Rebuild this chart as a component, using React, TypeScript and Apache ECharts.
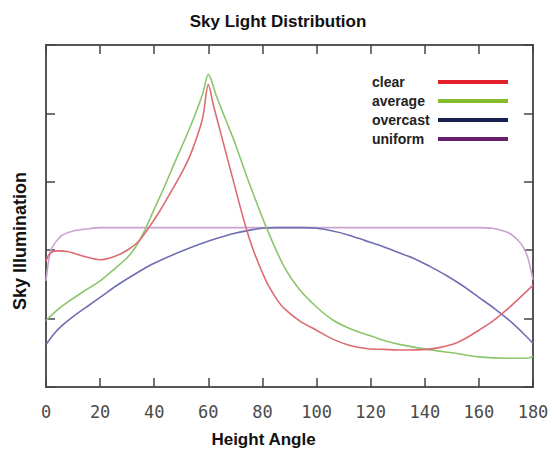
import React, { useEffect, useRef } from "react";
import * as echarts from "echarts";

const xTicks = [0, 20, 40, 60, 80, 100, 120, 140, 160, 180];

const clearX = [0, 1, 2, 4, 8, 14, 20, 26, 30, 34, 38, 42, 46, 50, 53, 56, 58, 60, 62, 64, 66, 68, 70, 72, 74, 76, 78, 80, 82, 85, 88, 94, 100, 106, 112, 119, 125, 131, 141, 150, 155, 160, 165, 170, 175, 180];
const clearY = [1.84, 1.93, 1.97, 1.99, 1.98, 1.91, 1.86, 1.92, 2.0, 2.12, 2.33, 2.57, 2.84, 3.12, 3.36, 3.68, 3.95, 4.42, 4.1, 3.8, 3.5, 3.2, 2.9, 2.6, 2.32, 2.07, 1.86, 1.67, 1.5, 1.3, 1.15, 0.96, 0.83, 0.7, 0.61, 0.56, 0.55, 0.54, 0.55, 0.62, 0.71, 0.83, 0.96, 1.12, 1.3, 1.49];

const averageX = [0, 4, 8, 14, 20, 26, 30, 33, 36, 40, 44, 48, 52, 55, 58, 60, 63, 66, 70, 74, 78, 82, 88, 94, 100, 106, 112, 119, 125, 131, 141, 150, 160, 170, 178, 180];
const averageY = [0.97, 1.12, 1.24, 1.4, 1.55, 1.75, 1.89, 2.04, 2.25, 2.6, 2.95, 3.32, 3.68, 3.97, 4.3, 4.57, 4.25, 3.95, 3.55, 3.1, 2.68, 2.28, 1.76, 1.41, 1.17, 0.98, 0.86, 0.76, 0.68, 0.62, 0.55, 0.5, 0.44, 0.42, 0.42, 0.45];

const overcastX = [0, 3, 6, 10, 15, 20, 26, 32, 38, 45, 51, 57, 63, 69, 75, 80, 85, 90, 95, 100, 106, 112, 118, 124, 130, 136, 142, 148, 154, 160, 166, 172, 176, 180];
const overcastY = [0.62, 0.78, 0.9, 1.03, 1.17, 1.31, 1.48, 1.63, 1.77, 1.9, 2.0, 2.09, 2.17, 2.24, 2.29, 2.32, 2.33, 2.33, 2.33, 2.32, 2.28, 2.22, 2.14, 2.06, 1.97, 1.88, 1.76, 1.63, 1.48, 1.31, 1.14, 0.95, 0.8, 0.64];

const uniformX = [0, 1, 2, 4, 6, 10, 15, 20, 60, 100, 140, 160, 165, 170, 173, 176, 178, 180];
const uniformY = [1.55, 1.85, 2.02, 2.14, 2.22, 2.28, 2.31, 2.33, 2.33, 2.33, 2.33, 2.33, 2.32, 2.27, 2.2, 2.07, 1.9, 1.57];

const seriesNames = ["clear", "average", "overcast", "uniform"];
const curveColors = ["#dc6b74", "#8cc66c", "#6f6fb2", "#c9a2d2"];
const legendColors = ["#e2202c", "#86bb2e", "#172050", "#6a1f6e"];

const pairs = (xs: number[], ys: number[]) => xs.map((x, i) => [x, ys[i]]);

export default function App() {
  const ref = useRef<HTMLDivElement>(null);
  useEffect(() => {
    if (!ref.current) return;
    const chart = echarts.init(ref.current, null, { renderer: "svg" });
    const datasets = [
      pairs(clearX, clearY),
      pairs(averageX, averageY),
      pairs(overcastX, overcastY),
      pairs(uniformX, uniformY),
    ];
    const frameLine = { show: true, onZero: false, lineStyle: { color: "#555", width: 2 } };
    const ticks = { show: true, inside: true, length: 9, lineStyle: { color: "#444", width: 1.5 } };
    chart.setOption({
      animation: false,
      backgroundColor: "#fff",
      title: {
        text: "Sky Light Distribution",
        left: "center",
        top: 13,
        padding: 0,
        textStyle: { fontFamily: "Liberation Sans", fontWeight: "bold", fontSize: 17, color: "#111" },
      },
      legend: {
        orient: "vertical",
        align: "right",
        right: 43,
        top: 70,
        itemWidth: 70,
        itemHeight: 4,
        itemGap: 5,
        icon: "rect",
        data: seriesNames.map((n, i) => ({ name: n, itemStyle: { color: legendColors[i] } })),
        formatter: (n: string) => `{a|${n}}`,
        textStyle: {
          rich: {
            a: {
              width: 61,
              align: "left",
              fontFamily: "Liberation Sans",
              fontWeight: "bold",
              fontSize: 14,
              lineHeight: 14,
              color: "#222",
            },
          },
        },
      },
      grid: { left: 46, right: 23, top: 45, bottom: 63 },
      xAxis: [
        {
          type: "value",
          min: 0,
          max: 180,
          interval: 20,
          position: "bottom",
          axisLine: frameLine,
          axisTick: ticks,
          splitLine: { show: false },
          axisLabel: {
            margin: 16,
            fontFamily: "DejaVu Sans Mono",
            fontSize: 17,
            color: "#4a4a4a",
            customValues: xTicks,
          },
          name: "Height Angle",
          nameLocation: "middle",
          nameGap: 44,
          nameTextStyle: {
            fontFamily: "Liberation Sans",
            fontWeight: "bold",
            fontSize: 17,
            color: "#111",
            padding: [0, 52, 0, 0],
          },
        },
        {
          type: "value",
          min: 0,
          max: 180,
          interval: 20,
          position: "top",
          axisLine: frameLine,
          axisTick: ticks,
          splitLine: { show: false },
          axisLabel: { show: false },
        },
      ],
      yAxis: [
        {
          type: "value",
          min: 0,
          max: 5,
          interval: 1,
          position: "left",
          axisLine: frameLine,
          axisTick: ticks,
          splitLine: { show: false },
          axisLabel: { show: false },
          name: "Sky Illumination",
          nameLocation: "middle",
          nameGap: 17,
          nameTextStyle: {
            fontFamily: "Liberation Sans",
            fontWeight: "bold",
            fontSize: 18,
            color: "#111",
            padding: [0, 50, 0, 0],
          },
        },
        {
          type: "value",
          min: 0,
          max: 5,
          interval: 1,
          position: "right",
          axisLine: frameLine,
          axisTick: ticks,
          splitLine: { show: false },
          axisLabel: { show: false },
        },
      ],
      series: seriesNames.map((n, i) => ({
        name: n,
        type: "line",
        xAxisIndex: 0,
        yAxisIndex: 0,
        data: datasets[i],
        showSymbol: false,
        smooth: 0.3,
        lineStyle: { color: curveColors[i], width: 1.6 },
        itemStyle: { color: legendColors[i] },
        z: 4 - i,
      })),
    });
    return () => chart.dispose();
  }, []);
  return (
    <div
      ref={ref}
      style={{ position: "fixed", left: 0, top: 0, width: 556, height: 453 }}
    />
  );
}
